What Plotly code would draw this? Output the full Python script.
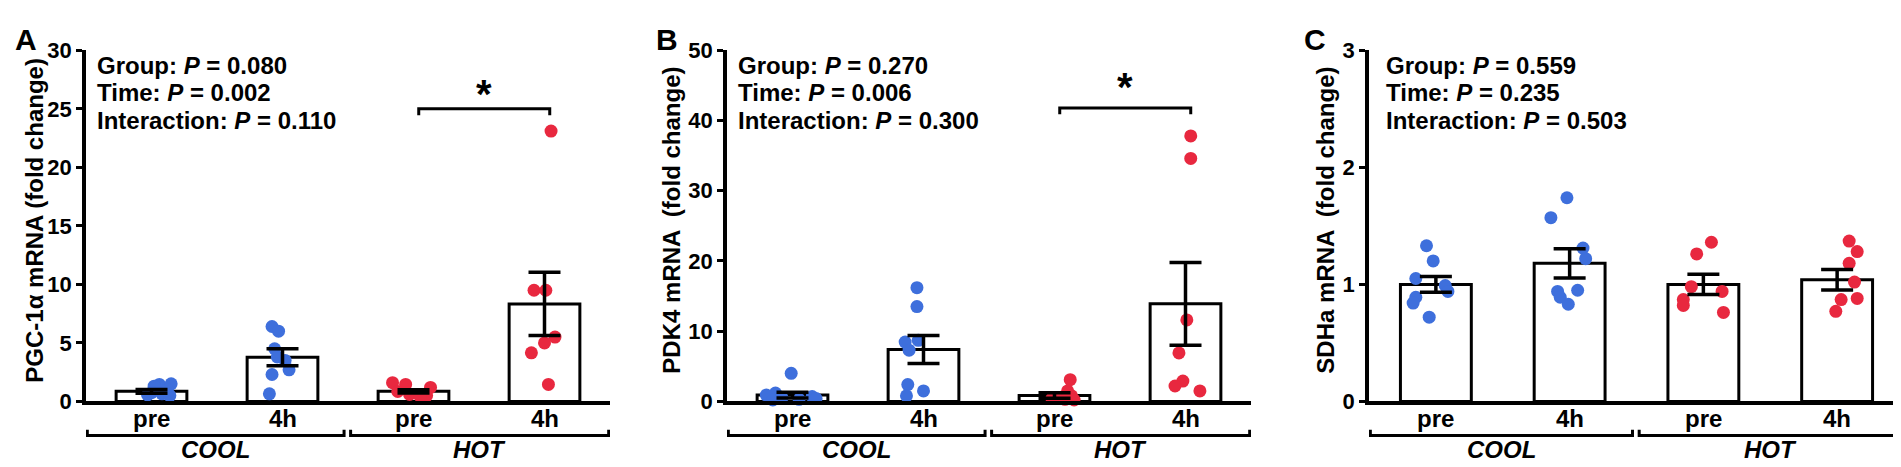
import plotly.graph_objects as go

# ---------------- data ----------------
categories = ["pre", "4h", "pre", "4h"]
groups = ["COOL", "HOT"]
panel_letters = ["A", "B", "C"]
y_titles = ["PGC-1α mRNA (fold change)", "PDK4 mRNA  (fold change)", "SDHa mRNA  (fold change)"]
stat_names = ["Group", "Time", "Interaction"]
stats_A = ["0.080", "0.002", "0.110"]
stats_B = ["0.270", "0.006", "0.300"]
stats_C = ["0.559", "0.235", "0.503"]

# Panel A: PGC-1a
pgc_means = [0.86, 3.77, 0.86, 8.33]
pgc_sem = [0.16, 0.73, 0.14, 2.7]
pgc_cool_pre = [1.5, 1.45, 1.3, 1.0, 0.75, 0.65, 0.55, 0.5]
pgc_cool_pre_off = [0.15, 0.06, 0.02, 0.12, 0.0, 0.08, -0.03, 0.14]
pgc_cool_4h = [6.4, 6.0, 4.5, 3.8, 3.5, 2.7, 2.3, 0.65]
pgc_cool_4h_off = [-0.08, -0.03, -0.06, -0.04, 0.02, 0.05, -0.08, -0.1]
pgc_hot_pre = [1.6, 1.45, 1.2, 0.85, 0.6, 0.5, 0.45]
pgc_hot_pre_off = [-0.16, -0.06, 0.13, -0.12, -0.03, 0.1, 0.05]
pgc_hot_4h = [23.1, 9.5, 9.5, 5.5, 5.0, 4.15, 1.45]
pgc_hot_4h_off = [0.05, -0.08, 0.01, 0.08, 0.0, -0.1, 0.03]

# Panel B: PDK4
pdk_means = [0.9, 7.4, 0.85, 13.9]
pdk_sem = [0.4, 2.0, 0.4, 5.9]
pdk_cool_pre = [4.0, 1.2, 0.9, 0.7, 0.5, 0.4, 0.3, 0.2]
pdk_cool_pre_off = [-0.01, -0.13, -0.2, 0.15, -0.08, 0.18, 0.05, -0.15]
pdk_cool_4h = [16.2, 13.5, 8.7, 8.45, 7.3, 2.4, 1.5, 0.8]
pdk_cool_4h_off = [-0.05, -0.05, -0.04, -0.14, -0.11, -0.12, 0.0, -0.13]
pdk_hot_pre = [3.1, 1.5, 0.8, 0.6, 0.4, 0.3, 0.2]
pdk_hot_pre_off = [0.12, 0.1, 0.13, 0.05, -0.02, 0.08, 0.15]
pdk_hot_4h = [37.8, 34.6, 11.6, 6.9, 2.9, 2.2, 1.5]
pdk_hot_4h_off = [0.04, 0.04, 0.01, -0.05, -0.02, -0.08, 0.11]

# Panel C: SDHa
sdh_means = [1.0, 1.18, 1.0, 1.04]
sdh_sem = [0.068, 0.125, 0.087, 0.088]
sdh_cool_pre = [1.33, 1.20, 1.05, 0.99, 0.94, 0.89, 0.84, 0.72]
sdh_cool_pre_off = [-0.07, -0.02, -0.15, 0.07, 0.09, -0.15, -0.17, -0.05]
sdh_cool_4h = [1.74, 1.57, 1.31, 1.22, 0.95, 0.94, 0.89, 0.83]
sdh_cool_4h_off = [-0.02, -0.14, 0.10, 0.12, 0.06, -0.09, -0.07, -0.01]
sdh_hot_pre = [1.36, 1.26, 0.98, 0.94, 0.87, 0.82, 0.76]
sdh_hot_pre_off = [0.06, -0.05, -0.09, 0.14, -0.15, -0.15, 0.15]
sdh_hot_4h = [1.37, 1.28, 1.18, 1.02, 0.88, 0.87, 0.77]
sdh_hot_4h_off = [0.09, 0.15, 0.09, 0.13, 0.15, 0.03, -0.01]

y_ranges = [[0, 30], [0, 50], [0, 3]]
y_dticks = [5, 10, 1]

BLUE = "#3E6FDC"
RED = "#E8283F"
W, H = 1901, 467
FONT = "Liberation Sans, Arial, sans-serif"

panels = [
    dict(means=pgc_means, sem=pgc_sem,
         pts=[(pgc_cool_pre, pgc_cool_pre_off), (pgc_cool_4h, pgc_cool_4h_off),
              (pgc_hot_pre, pgc_hot_pre_off), (pgc_hot_4h, pgc_hot_4h_off)],
         stats=stats_A, dom=[78, 602],
         bw=0.54, ms=13, cap=16, sig=[25, 24.45], star=26.3, letter_x=18, title_x=27, stat_x=87),
    dict(means=pdk_means, sem=pdk_sem,
         pts=[(pdk_cool_pre, pdk_cool_pre_off), (pdk_cool_4h, pdk_cool_4h_off),
              (pdk_hot_pre, pdk_hot_pre_off), (pdk_hot_4h, pdk_hot_4h_off)],
         stats=stats_B, dom=[719, 1243],
         bw=0.54, ms=13, cap=16, sig=[41.8, 40.9], star=44.8, letter_x=659, title_x=664, stat_x=728),
    dict(means=sdh_means, sem=sdh_sem,
         pts=[(sdh_cool_pre, sdh_cool_pre_off), (sdh_cool_4h, sdh_cool_4h_off),
              (sdh_hot_pre, sdh_hot_pre_off), (sdh_hot_4h, sdh_hot_4h_off)],
         stats=stats_C, dom=[1361, 1896],
         bw=0.53, ms=13, cap=16, sig=None, star=None, letter_x=1307, title_x=1318, stat_x=1376),
]

def py(Y):
    return (H - Y) / H

fig = go.Figure()
annotations = []
shapes = []
ydom = [py(403), py(32)]

for k, p in enumerate(panels):
    sfx = "" if k == 0 else str(k + 1)
    xr, yr = "x" + sfx, "y" + sfx
    xpos = list(range(len(categories)))
    fig.add_trace(go.Bar(x=xpos, y=p["means"], width=p["bw"], xaxis=xr, yaxis=yr,
                         marker=dict(color="white", line=dict(color="black", width=3)),
                         showlegend=False, hoverinfo="skip"))
    for i, (vals, offs) in enumerate(p["pts"]):
        col = BLUE if i < 2 else RED
        fig.add_trace(go.Scatter(x=[i + o for o in offs], y=vals, mode="markers",
                                 xaxis=xr, yaxis=yr, cliponaxis=False,
                                 marker=dict(color=col, size=p["ms"], line=dict(width=0)),
                                 showlegend=False))
    fig.add_trace(go.Scatter(x=xpos, y=p["means"], mode="markers", xaxis=xr, yaxis=yr,
                             marker=dict(size=1, color="rgba(0,0,0,0)"),
                             error_y=dict(type="data", array=p["sem"], visible=True,
                                          color="black", thickness=3.5, width=p["cap"]),
                             showlegend=False, cliponaxis=False))
    xd = [p["dom"][0] / W, p["dom"][1] / W]
    fig.update_layout(**{
        "xaxis" + sfx: dict(domain=xd, range=[-0.5, 3.5], showticklabels=False, ticks="",
                            showline=True, linecolor="black", linewidth=3.5, showgrid=False,
                            zeroline=False, anchor=yr, fixedrange=True),
        "yaxis" + sfx: dict(domain=ydom, range=y_ranges[k], dtick=y_dticks[k], tick0=0,
                            showline=True, linecolor="black", linewidth=3.5, ticks="outside",
                            ticklen=6, tickwidth=3, tickcolor="black", showgrid=False,
                            zeroline=False, anchor=xr,
                            tickfont=dict(family=FONT, size=22, color="black", weight="bold")),
    })
    f = dict(family=FONT, color="black")
    annotations.append(dict(x=p["letter_x"] / W, y=py(21), xref="paper", yref="paper",
                            text="<b>%s</b>" % panel_letters[k], showarrow=False,
                            font=dict(size=30, **f), xanchor="center", yanchor="middle"))
    annotations.append(dict(x=p["title_x"] / W, y=py(212), xref="paper", yref="paper",
                            text="<b>%s</b>" % y_titles[k], textangle=-90, showarrow=False,
                            font=dict(size=24, **f), xanchor="center", yanchor="middle"))
    for j, (nm, val) in enumerate(zip(stat_names, p["stats"])):
        annotations.append(dict(x=p["stat_x"] / W, y=py([48, 77, 106][j]), xref="paper", yref="paper",
                                text="<b>%s: <i>P</i> = %s</b>" % (nm, val), showarrow=False,
                                font=dict(size=24, **f), xanchor="left", yanchor="middle"))
    for i, c in enumerate(categories):
        annotations.append(dict(x=i, y=py(421), xref=xr, yref="paper", text="<b>%s</b>" % c,
                                showarrow=False, font=dict(size=24, **f),
                                xanchor="center", yanchor="middle"))
    for g, (gname, x0, x1) in enumerate(zip(groups, [-0.49, 1.52], [1.47, 3.49])):
        annotations.append(dict(x=(x0 + x1) / 2, y=py(454), xref=xr, yref="paper",
                                text="<b><i>%s</i></b>" % gname, showarrow=False,
                                font=dict(size=24, **f), xanchor="center", yanchor="middle"))
        shapes.append(dict(type="path", xref=xr, yref="paper",
                           path="M %f,%f L %f,%f L %f,%f L %f,%f" % (x0, py(433), x0, py(439), x1, py(439), x1, py(433)),
                           line=dict(color="black", width=3)))
    if p["sig"] is not None:
        yl, ye = p["sig"]
        shapes.append(dict(type="path", xref=xr, yref=yr,
                           path="M 2.04,%f L 2.04,%f L 3.04,%f L 3.04,%f" % (ye, yl, yl, ye),
                           line=dict(color="black", width=3)))
        annotations.append(dict(x=2.54, y=p["star"], xref=xr, yref=yr, text="<b>*</b>",
                                showarrow=False, font=dict(size=40, family=FONT, color="black"),
                                xanchor="center", yanchor="middle"))

fig.update_layout(width=W, height=H, margin=dict(l=0, r=0, t=0, b=0),
                  paper_bgcolor="white", plot_bgcolor="white",
                  annotations=annotations, shapes=shapes, barmode="overlay")

fig.write_html("out.html")
